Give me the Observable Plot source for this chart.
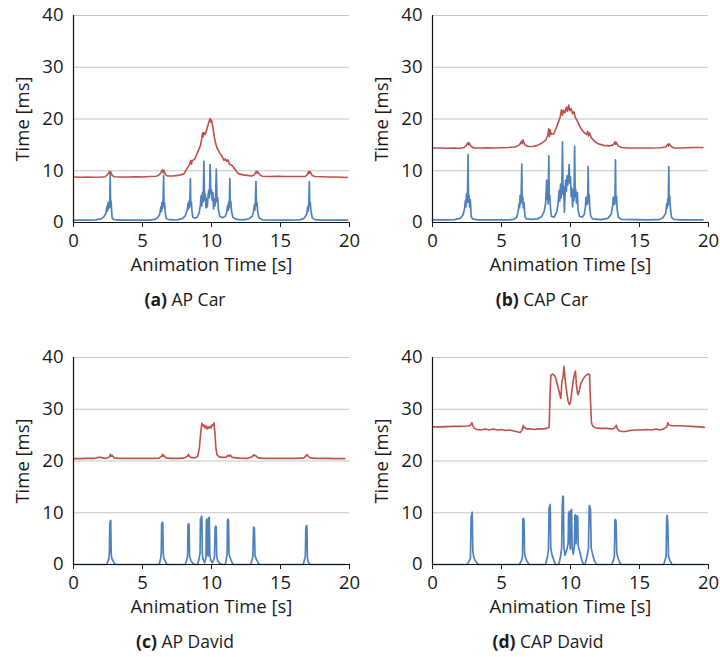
<!DOCTYPE html>
<html><head><meta charset="utf-8">
<script src="https://cdn.jsdelivr.net/npm/d3@7"></script>
<script src="https://cdn.jsdelivr.net/npm/@observablehq/plot@0.6"></script>
<style>
body{margin:0;background:#fff;}
#root{position:relative;width:720px;height:657px;font-family:"Open Sans",sans-serif;color:#1a1a1a;}
.panel{position:absolute;width:360px;height:315px;}
.panel svg{position:absolute;left:0;top:0;}
.cap{position:absolute;top:289px;font-size:17.5px;line-height:20px;white-space:nowrap;transform:translateX(-50%);}
</style>
</head><body><div id="root"></div>
<script>
const xTicks = [0, 5, 10, 15, 20];
const yTicks = [0, 10, 20, 30, 40];
const panelLetters = ["(a)", "(b)", "(c)", "(d)"];
const panelNames = ["AP Car", "CAP Car", "AP David", "CAP David"];
const xLabel = "Animation Time [s]";
const yLabel = "Time [ms]";

const apCarRed = [[0,8.8],[0.5,8.75],[1,8.8],[1.5,8.75],[2,8.8],[2.3,8.85],[2.45,9.2],[2.55,9.6],[2.6,9.9],[2.65,9.4],[2.7,9.8],[2.8,9.1],[2.95,8.85],[3.5,8.8],[4,8.8],[4.5,8.85],[5,8.8],[5.5,8.9],[6,8.95],[6.2,9.2],[6.35,9.7],[6.45,10.2],[6.5,9.6],[6.55,10.1],[6.65,9.3],[6.8,9.0],[7.2,9.0],[7.6,9.1],[8.0,9.4],[8.2,10.3],[8.4,11.2],[8.5,12.0],[8.55,11.3],[8.6,11.9],[8.8,12.3],[9.0,13.6],[9.2,14.9],[9.3,16.3],[9.35,17.3],[9.4,16.6],[9.45,17.4],[9.55,17.0],[9.7,18.4],[9.8,19.3],[9.9,20.1],[9.95,19.4],[10.0,19.8],[10.1,18.4],[10.2,16.6],[10.3,15.3],[10.4,14.4],[10.5,13.9],[10.6,13.4],[10.8,12.6],[10.9,12.0],[11.0,12.3],[11.1,11.8],[11.2,12.1],[11.3,11.3],[11.5,11.0],[11.7,10.3],[11.85,9.7],[12.0,9.4],[12.3,9.2],[12.6,9.1],[12.9,9.0],[13.1,9.2],[13.25,9.9],[13.3,9.5],[13.35,9.85],[13.5,9.2],[13.7,8.95],[14.2,8.9],[14.8,8.95],[15.3,8.9],[15.8,8.9],[16.4,8.9],[16.8,8.9],[16.95,9.3],[17.05,9.9],[17.1,9.5],[17.15,9.8],[17.3,9.1],[17.5,8.9],[18,8.85],[18.5,8.8],[19,8.8],[19.4,8.75],[19.85,8.7]];

const apCarBlue = [[0,0.45],[1,0.45],[1.6,0.5],[2.0,0.7],[2.2,1.1],[2.35,1.8],[2.42,3.1],[2.46,2.2],[2.5,3.8],[2.54,2.6],[2.58,4.0],[2.62,2.9],[2.66,9.3],[2.69,3.3],[2.72,4.2],[2.76,2.4],[2.8,0.9],[2.9,0.6],[3.2,0.45],[5.5,0.45],[5.9,0.6],[6.1,0.9],[6.25,1.6],[6.33,3.0],[6.37,2.1],[6.41,3.9],[6.45,2.7],[6.49,4.1],[6.53,9.0],[6.56,3.1],[6.6,3.8],[6.64,2.2],[6.7,0.9],[6.85,0.6],[7.2,0.5],[7.6,0.55],[7.9,0.8],[8.1,1.3],[8.25,2.5],[8.3,3.7],[8.34,2.6],[8.38,4.2],[8.42,3.0],[8.47,8.5],[8.5,3.4],[8.54,4.0],[8.58,2.3],[8.65,1.0],[8.8,0.8],[8.95,1.0],[9.1,1.8],[9.2,3.4],[9.25,5.2],[9.3,3.2],[9.35,5.8],[9.4,4.0],[9.45,11.8],[9.5,4.3],[9.55,5.5],[9.6,2.8],[9.65,4.6],[9.7,3.0],[9.75,5.2],[9.8,6.2],[9.85,4.8],[9.9,11.2],[9.95,5.6],[10.0,6.3],[10.05,4.3],[10.1,5.8],[10.15,2.6],[10.2,4.5],[10.25,3.2],[10.3,5.0],[10.35,10.3],[10.4,4.0],[10.45,4.8],[10.5,2.5],[10.6,1.2],[10.8,0.9],[11.0,1.2],[11.1,2.0],[11.17,3.3],[11.21,2.4],[11.25,4.0],[11.29,2.8],[11.33,8.5],[11.36,3.5],[11.4,4.1],[11.45,2.2],[11.55,1.0],[11.8,0.6],[12.3,0.5],[12.7,0.7],[12.95,1.2],[13.05,2.2],[13.1,3.4],[13.14,2.4],[13.18,3.9],[13.22,7.9],[13.26,3.2],[13.3,3.8],[13.35,2.0],[13.45,0.9],[13.7,0.5],[15.5,0.45],[16.4,0.5],[16.7,0.8],[16.9,1.6],[16.97,3.0],[17.01,2.2],[17.05,3.8],[17.09,7.9],[17.12,3.2],[17.16,3.9],[17.2,2.4],[17.3,0.9],[17.5,0.55],[18,0.45],[19,0.45],[19.85,0.45]];

const capCarRed = [[0,14.4],[0.5,14.4],[1,14.35],[1.5,14.4],[2,14.35],[2.3,14.5],[2.45,14.9],[2.55,15.4],[2.6,15.0],[2.65,15.4],[2.8,14.7],[3.0,14.4],[3.5,14.4],[4,14.45],[4.5,14.4],[5,14.45],[5.5,14.5],[6.0,14.6],[6.3,15.0],[6.45,15.7],[6.5,15.2],[6.55,16.0],[6.7,15.0],[6.9,14.7],[7.3,14.7],[7.6,14.9],[7.9,15.3],[8.2,15.9],[8.35,16.8],[8.42,18.1],[8.47,16.6],[8.52,17.9],[8.6,17.0],[8.8,17.2],[9.0,18.5],[9.1,19.2],[9.25,20.4],[9.35,21.8],[9.42,20.7],[9.5,21.7],[9.6,21.2],[9.7,22.3],[9.78,21.5],[9.87,22.7],[9.95,21.6],[10.05,22.0],[10.15,21.0],[10.25,21.4],[10.35,20.3],[10.5,19.6],[10.6,19.0],[10.75,18.2],[10.95,17.5],[11.15,17.0],[11.25,17.6],[11.3,16.7],[11.38,17.3],[11.5,16.4],[11.7,15.8],[12.0,15.2],[12.4,14.9],[12.8,14.8],[13.1,15.0],[13.22,15.6],[13.27,15.1],[13.32,15.5],[13.45,14.8],[13.7,14.5],[14.2,14.4],[15,14.4],[15.8,14.4],[16.5,14.45],[16.9,14.6],[17.05,15.1],[17.1,14.8],[17.15,15.2],[17.3,14.7],[17.5,14.4],[18,14.4],[18.5,14.45],[19,14.5],[19.6,14.5]];

const capCarBlue = [[0,0.5],[1,0.5],[1.6,0.55],[2.0,0.8],[2.2,1.4],[2.32,2.6],[2.38,4.2],[2.42,3.0],[2.46,5.5],[2.5,3.8],[2.54,6.0],[2.58,13.1],[2.61,4.0],[2.65,5.2],[2.69,3.0],[2.74,4.4],[2.8,1.2],[2.9,0.7],[3.3,0.5],[5.5,0.5],[5.9,0.6],[6.1,1.0],[6.2,2.0],[6.27,3.6],[6.31,2.8],[6.35,5.2],[6.39,3.6],[6.43,5.6],[6.47,11.3],[6.5,4.0],[6.54,4.9],[6.58,2.8],[6.63,3.9],[6.7,1.2],[6.8,0.7],[7.2,0.6],[7.6,0.7],[7.9,1.1],[8.1,2.2],[8.2,3.8],[8.27,8.2],[8.3,4.5],[8.34,6.0],[8.38,3.6],[8.43,12.9],[8.46,4.4],[8.5,5.2],[8.55,2.8],[8.62,1.2],[8.8,1.0],[9.0,2.0],[9.1,3.6],[9.18,6.2],[9.22,4.1],[9.28,7.4],[9.32,4.8],[9.37,6.6],[9.42,15.6],[9.46,5.5],[9.5,7.0],[9.56,2.0],[9.6,5.0],[9.65,8.2],[9.7,6.0],[9.75,9.0],[9.8,7.2],[9.85,8.6],[9.9,11.2],[9.95,7.6],[10.0,8.8],[10.05,5.0],[10.1,6.6],[10.15,3.0],[10.2,6.2],[10.25,4.2],[10.3,14.7],[10.34,5.0],[10.38,6.4],[10.43,3.8],[10.5,5.8],[10.55,2.4],[10.65,1.2],[10.85,1.0],[11.0,1.6],[11.08,3.0],[11.12,4.8],[11.16,3.4],[11.2,5.0],[11.24,3.6],[11.28,10.8],[11.31,4.1],[11.35,5.4],[11.4,2.8],[11.47,1.2],[11.6,0.7],[12.2,0.55],[12.7,0.8],[12.95,1.6],[13.05,3.2],[13.1,4.8],[13.14,3.4],[13.18,5.0],[13.22,3.6],[13.26,12.1],[13.29,4.2],[13.33,5.1],[13.38,2.6],[13.46,1.0],[13.7,0.6],[15.5,0.5],[16.4,0.55],[16.7,0.9],[16.9,1.8],[16.97,3.6],[17.01,2.8],[17.05,4.6],[17.09,3.4],[17.12,10.8],[17.15,4.2],[17.19,5.1],[17.24,2.8],[17.32,1.0],[17.5,0.6],[18,0.5],[19,0.5],[19.6,0.5]];

const apDavidRed = [[0,20.45],[0.5,20.45],[1,20.5],[1.5,20.5],[1.8,20.7],[1.95,20.75],[2.1,20.55],[2.4,20.5],[2.6,20.8],[2.68,21.3],[2.72,20.9],[2.8,21.1],[2.95,20.6],[3.3,20.5],[4,20.5],[4.6,20.5],[5.2,20.5],[5.8,20.5],[6.2,20.55],[6.38,20.9],[6.45,21.3],[6.5,20.9],[6.55,21.1],[6.7,20.6],[7.0,20.5],[7.5,20.5],[8.0,20.55],[8.25,20.9],[8.33,21.3],[8.4,20.9],[8.5,20.7],[8.8,20.6],[9.0,20.9],[9.12,22.5],[9.22,25.5],[9.3,27.3],[9.38,26.8],[9.45,27.0],[9.52,26.4],[9.6,26.8],[9.68,26.2],[9.75,26.6],[9.82,26.3],[9.9,26.7],[9.98,26.4],[10.05,27.0],[10.12,26.9],[10.18,27.4],[10.25,25.5],[10.32,22.5],[10.4,21.2],[10.55,20.8],[10.8,20.7],[11.05,20.75],[11.2,21.1],[11.28,20.9],[11.35,21.15],[11.5,20.7],[12,20.55],[12.6,20.5],[12.95,20.8],[13.05,21.2],[13.1,21.0],[13.18,21.1],[13.35,20.65],[13.7,20.5],[14.5,20.5],[15.3,20.5],[16.2,20.5],[16.7,20.6],[16.85,21.0],[16.92,21.25],[17.0,20.9],[17.2,20.55],[17.6,20.5],[18.3,20.5],[19,20.45],[19.65,20.45]];

const apDavidBlue = [[0,0],[2.4,0],[2.55,1.0],[2.6,2.2],[2.63,7.9],[2.66,8.3],[2.7,8.5],[2.73,2.0],[2.78,1.2],[2.95,0.2],[3.1,0],[6.2,0],[6.32,1.2],[6.36,2.4],[6.39,7.9],[6.43,8.15],[6.47,8.1],[6.5,2.2],[6.55,1.2],[6.72,0.2],[6.8,0],[8.1,0],[8.22,1.0],[8.27,1.8],[8.3,7.6],[8.34,7.9],[8.37,7.7],[8.41,1.6],[8.5,0.8],[8.65,0.2],[8.75,0],[9.0,0],[9.12,1.4],[9.17,2.2],[9.2,8.8],[9.24,8.6],[9.27,9.3],[9.3,9.2],[9.34,1.8],[9.4,1.0],[9.5,0.3],[9.55,0.8],[9.6,1.4],[9.63,8.5],[9.67,8.8],[9.7,2.4],[9.75,1.6],[9.8,9.0],[9.84,9.1],[9.88,1.8],[9.95,0.8],[10.05,0.3],[10.15,0.8],[10.22,1.6],[10.26,7.0],[10.3,7.4],[10.34,7.3],[10.38,1.6],[10.45,0.7],[10.6,0.2],[10.8,0],[11.0,0],[11.08,1.2],[11.13,2.0],[11.16,8.5],[11.2,8.8],[11.23,8.6],[11.27,2.0],[11.35,1.3],[11.5,0.3],[11.6,0],[12.85,0],[12.95,1.0],[13.0,1.6],[13.04,7.0],[13.08,7.2],[13.11,7.0],[13.15,1.8],[13.25,1.0],[13.4,0.2],[13.5,0],[16.65,0],[16.75,1.0],[16.8,1.6],[16.84,7.2],[16.88,7.5],[16.91,7.5],[16.95,1.4],[17.0,0.5],[17.15,0],[19.65,0]];

const capDavidRed = [[0,26.6],[0.5,26.6],[1,26.65],[1.5,26.7],[2,26.7],[2.5,26.75],[2.7,26.8],[2.8,27.1],[2.86,27.4],[2.92,26.8],[3.0,26.4],[3.2,26.1],[3.5,26.0],[3.8,26.2],[4.1,26.0],[4.4,26.2],[4.7,26.0],[5.0,26.1],[5.3,25.9],[5.6,26.0],[5.9,25.8],[6.2,25.6],[6.35,25.5],[6.5,26.0],[6.58,26.9],[6.62,26.4],[6.7,26.5],[6.8,26.2],[7.1,26.2],[7.4,26.1],[7.7,26.2],[8.0,26.2],[8.3,26.3],[8.45,26.5],[8.52,33.0],[8.58,36.6],[8.7,36.8],[8.85,36.5],[8.95,35.8],[9.1,34.2],[9.25,32.6],[9.3,32.1],[9.38,35.5],[9.45,36.0],[9.52,38.3],[9.58,36.8],[9.64,35.0],[9.72,33.5],[9.82,31.6],[9.92,30.9],[10.0,31.3],[10.1,33.6],[10.2,35.6],[10.3,37.0],[10.36,37.4],[10.42,35.0],[10.5,33.2],[10.56,32.8],[10.65,33.8],[10.75,35.0],[10.9,35.8],[11.1,36.5],[11.3,36.8],[11.38,36.7],[11.45,31.5],[11.52,27.4],[11.6,26.8],[11.8,26.4],[12.2,26.3],[12.6,26.3],[13.0,26.2],[13.2,26.4],[13.32,26.9],[13.38,26.3],[13.5,25.9],[13.7,25.7],[14.0,25.7],[14.3,25.9],[14.7,26.0],[15.1,26.0],[15.5,26.1],[15.9,26.0],[16.2,26.2],[16.5,26.0],[16.8,26.3],[16.98,26.6],[17.05,27.4],[17.1,27.0],[17.2,26.9],[17.4,26.8],[17.8,26.8],[18.3,26.75],[18.8,26.7],[19.3,26.6],[19.7,26.5]];

const capDavidBlue = [[0,0],[2.5,0],[2.65,0.6],[2.75,1.2],[2.8,9.2],[2.84,9.6],[2.88,10.1],[2.92,2.8],[2.97,1.6],[3.05,1.0],[3.2,0.3],[3.35,0],[6.3,0],[6.45,0.8],[6.52,1.4],[6.55,8.8],[6.6,8.9],[6.63,8.6],[6.67,2.2],[6.72,1.5],[6.85,0.6],[7.0,0],[8.2,0],[8.32,1.4],[8.4,2.8],[8.45,11.0],[8.49,11.2],[8.53,11.6],[8.57,3.2],[8.65,2.0],[8.8,0.8],[8.9,0],[9.15,0],[9.28,1.6],[9.36,3.2],[9.4,11.0],[9.44,13.2],[9.48,13.1],[9.52,3.4],[9.6,1.8],[9.75,3.0],[9.83,4.2],[9.86,9.9],[9.9,10.2],[9.94,4.5],[9.98,3.0],[10.02,10.4],[10.08,10.6],[10.12,3.2],[10.2,2.0],[10.28,3.6],[10.32,9.5],[10.36,9.6],[10.4,4.0],[10.48,9.4],[10.52,9.3],[10.56,3.5],[10.68,2.4],[10.8,1.0],[10.95,0],[11.05,0],[11.2,1.6],[11.3,3.0],[11.36,11.4],[11.4,11.2],[11.45,10.6],[11.5,3.2],[11.6,2.0],[11.75,0.6],[11.9,0],[13.0,0],[13.1,0.8],[13.18,1.6],[13.22,8.6],[13.26,8.7],[13.3,8.3],[13.35,2.2],[13.45,1.2],[13.6,0.2],[13.7,0],[16.75,0],[16.85,0.8],[16.93,1.6],[16.97,9.2],[17.01,9.5],[17.05,7.8],[17.1,1.6],[17.2,0.8],[17.35,0],[19.7,0]];

const series = [[apCarRed, apCarBlue], [capCarRed, capCarBlue], [apDavidRed, apDavidBlue], [capDavidRed, capDavidBlue]];

const RED = "#c0504d", BLUE = "#4f81bd";
const layout = [{left:0, top:0, cap:185}, {left:359, top:0, cap:183}, {left:0, top:342, cap:185}, {left:359, top:342, cap:189}];

function makePlot(red, blue) {
  return Plot.plot({
    width: 360, height: 280,
    marginLeft: 73, marginRight: 11, marginTop: 15, marginBottom: 58,
    style: {fontFamily: "Open Sans", fontSize: "18.5px", color: "#1a1a1a", background: "transparent", overflow: "visible"},
    x: {domain: [0, 20]},
    y: {domain: [0, 40]},
    marks: [
      Plot.gridY(yTicks.slice(1), {stroke: "#c6c6c6", strokeOpacity: 1, strokeWidth: 1}),
      Plot.line(blue, {x: d => d[0], y: d => d[1], stroke: BLUE, strokeWidth: 1.7}),
      Plot.line(red, {x: d => d[0], y: d => d[1], stroke: RED, strokeWidth: 1.6}),
      Plot.ruleX([0], {stroke: "#111", strokeWidth: 1.2}),
      Plot.ruleY([0], {stroke: "#111", strokeWidth: 1.2}),
      Plot.axisX({ticks: xTicks, tickSize: 5, tickPadding: 6, fontSize: 18.5, label: xLabel, labelAnchor: "center", labelOffset: 48, labelArrow: "none"}),
      Plot.axisY({ticks: yTicks, tickSize: 0, tickPadding: 10, fontSize: 18.5, label: yLabel, labelAnchor: "center", labelOffset: 58, labelArrow: "none"})
    ]
  });
}

const root = document.getElementById("root");
series.forEach(([red, blue], i) => {
  const div = document.createElement("div");
  div.className = "panel";
  div.style.left = layout[i].left + "px";
  div.style.top = layout[i].top + "px";
  div.appendChild(makePlot(red, blue));
  const cap = document.createElement("div");
  cap.className = "cap";
  cap.style.left = layout[i].cap + "px";
  const b = document.createElement("b");
  b.textContent = panelLetters[i];
  cap.appendChild(b);
  cap.appendChild(document.createTextNode(" " + panelNames[i]));
  div.appendChild(cap);
  root.appendChild(div);
});
</script>
</body></html>
